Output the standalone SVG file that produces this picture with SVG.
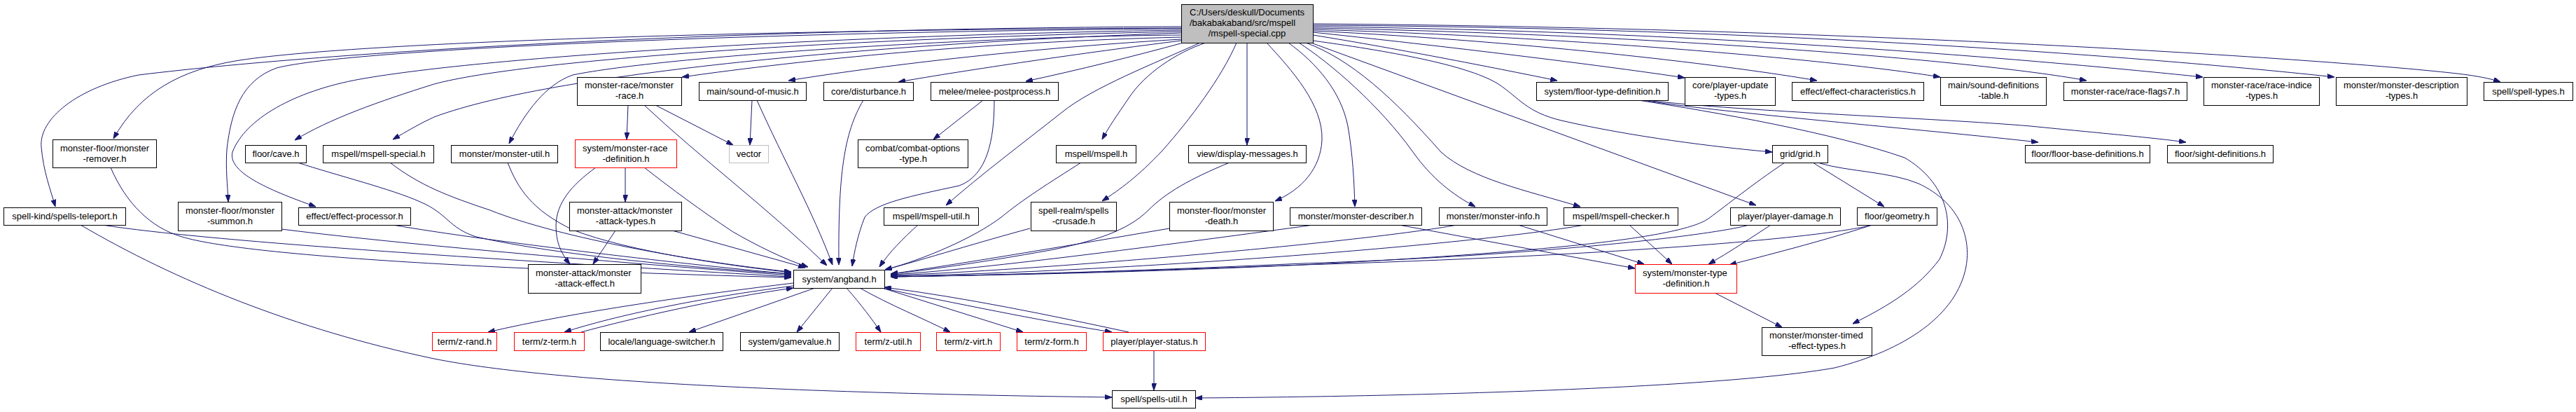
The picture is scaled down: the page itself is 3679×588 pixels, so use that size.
<svg xmlns="http://www.w3.org/2000/svg" width="3679" height="588" viewBox="0 0 3679 588">
<style>
rect{fill:#fff;stroke:#000;stroke-width:1}
.r rect{stroke:#ff0000}
.g rect{stroke:#bfbfbf}
.m rect{fill:#bfbfbf}
text{font-family:"Liberation Sans",Arial,sans-serif;font-size:13px;fill:#000}
.c{text-anchor:middle}
#edges path{fill:none;stroke:#191970;stroke-width:1;marker-end:url(#ah)}
</style>
<defs>
<marker id="ah" markerWidth="10" markerHeight="7" refX="10" refY="3.5" orient="auto" markerUnits="userSpaceOnUse">
<path d="M0,0 L10,3.5 L0,7 z" fill="#191970" stroke="#191970" stroke-width="1"/>
</marker>
</defs>
<rect x="0" y="0" width="3679" height="588" style="fill:#fff;stroke:none"/>
<g id="edges">
<path d="M1687,38 C1100,40 500,70 198,107 C110,125 55,170 59,210 C62,245 72,270 79,295"/>
<path d="M1687,40 C1100,42 500,60 336,87 C260,100 200,130 162,198"/>
<path d="M1687,41 C1100,45 500,70 395,97 C345,115 330,160 324,213 C322,240 325,265 326,288"/>
<path d="M1687,43 C1200,50 700,80 514,113 C420,130 350,170 332,217 C325,245 380,270 451,295"/>
<path d="M1687,45 C1200,55 750,85 620,120 C540,145 470,170 421,200"/>
<path d="M1687,47 C1300,60 800,100 620,167 C600,176 580,188 561,199"/>
<path d="M1687,50 C1400,52 950,80 818,107 C780,120 750,160 727,205"/>
<path d="M1687,53 C1400,60 1150,85 974,110"/>
<path d="M1687,56 C1450,70 1250,95 1126,115"/>
<path d="M1687,58 C1550,75 1380,100 1283,117"/>
<path d="M1690,61 C1620,80 1540,100 1465,116"/>
<path d="M1714,61 C1650,90 1560,125 1517,160 C1460,205 1400,250 1351,293"/>
<path d="M1722,61 C1680,75 1635,105 1612,140 C1595,165 1583,182 1574,199"/>
<path d="M1766,61 C1745,110 1700,170 1660,215 C1625,252 1600,270 1574,287"/>
<path d="M1781,61 L1781,207"/>
<path d="M1809,61 C1845,100 1890,150 1888,200 C1886,240 1860,270 1821,287"/>
<path d="M1840,61 C1880,90 1915,130 1925,180 C1932,220 1934,260 1935,295"/>
<path d="M1855,61 C1900,90 1970,150 2018,217 C2045,255 2075,278 2107,295"/>
<path d="M1865,61 C1930,85 1990,140 2058,217 C2100,255 2180,272 2257,295"/>
<path d="M1875,62 L2508,293"/>
<path d="M1875,58 C2000,75 2100,95 2140,120 C2170,140 2180,160 2230,172 C2330,195 2450,210 2531,217"/>
<path d="M1875,50 C2000,70 2150,100 2224,115"/>
<path d="M1875,46 C2100,70 2300,95 2406,111"/>
<path d="M1875,44 C2200,60 2480,95 2595,115"/>
<path d="M1875,42 C2300,55 2650,90 2771,110"/>
<path d="M1875,40 C2400,50 2850,90 2980,115"/>
<path d="M1875,38 C2500,45 3000,95 3146,110"/>
<path d="M1875,36 C2600,40 3150,90 3334,110"/>
<path d="M1875,34 C2700,40 3400,90 3525,107 C3545,110 3560,113 3571,117"/>
<path d="M2346,143 C2450,160 2750,185 2911,203"/>
<path d="M2350,143 C2500,160 2757,168 2900,180 C3000,190 3080,197 3122,203"/>
<path d="M2340,143 C2450,160 2620,190 2720,225 C2780,260 2795,320 2770,370 C2740,410 2700,435 2646,462"/>
<path d="M2589,232 L2691,295"/>
<path d="M2549,232 C2500,265 2470,290 2440,312 C2400,340 2200,360 1860,378 C1600,390 1400,393 1272,395"/>
<path d="M2599,233 C2640,245 2700,245 2740,262 C2800,290 2815,340 2808,380 C2795,450 2720,500 2620,525 C2450,555 2000,566 1707,568"/>
<path d="M1876,321 C1700,345 1400,385 1272,392"/>
<path d="M2081,321 C1950,345 1500,385 1272,393"/>
<path d="M2263,321 C2100,350 1600,388 1272,394"/>
<path d="M2498,321 C2450,335 2200,365 1860,376 C1600,388 1400,393 1272,395"/>
<path d="M2674,321 C2600,340 2300,365 1860,378 C1600,388 1400,393 1272,395"/>
<path d="M1998,321 L2335,383"/>
<path d="M2168,321 L2348,377"/>
<path d="M2327,321 L2388,377"/>
<path d="M2529,321 C2500,340 2470,360 2440,377"/>
<path d="M2674,321 C2600,345 2520,365 2470,378"/>
<path d="M2449,418 L2545,467"/>
<path d="M1670,326 C1500,355 1350,380 1272,391"/>
<path d="M1756,232 C1700,255 1665,275 1640,300 C1610,330 1560,345 1500,357 C1400,375 1320,386 1272,391"/>
<path d="M1544,232 C1500,260 1460,285 1430,310 C1390,340 1320,370 1264,385"/>
<path d="M1471,326 C1400,345 1320,370 1264,385"/>
<path d="M1311,321 C1290,340 1270,360 1256,381"/>
<path d="M1420,143 C1420,200 1410,250 1370,265 C1300,280 1250,290 1235,310 C1225,335 1220,360 1217,380"/>
<path d="M1233,143 C1205,190 1197,250 1198,378"/>
<path d="M1081,143 C1120,230 1160,300 1189,378"/>
<path d="M920,150 C1000,225 1100,300 1181,379"/>
<path d="M920,239 C960,270 1000,300 1047,331 C1080,350 1120,370 1154,381"/>
<path d="M960,329 L1150,382"/>
<path d="M725,232 C740,270 760,300 818,328 C900,360 1050,380 1130,389"/>
<path d="M557,232 C600,265 640,280 700,300 C800,340 1000,375 1130,388"/>
<path d="M425,232 C480,250 560,270 600,288 C640,305 640,325 680,338 C800,365 1000,383 1130,391"/>
<path d="M561,321 C700,345 1000,380 1130,391"/>
<path d="M402,327 C600,352 950,380 1130,393"/>
<path d="M146,321 C300,345 700,370 1130,395"/>
<path d="M158,239 C180,290 215,325 260,338 C350,365 700,385 1130,396"/>
<path d="M851,239 C815,265 795,290 794,321 C794,345 800,360 814,377"/>
<path d="M893,239 L893,288"/>
<path d="M879,329 L847,377"/>
<path d="M897,150 L895,199"/>
<path d="M936,150 L1047,207"/>
<path d="M1074,143 L1071,207"/>
<path d="M1404,143 L1333,199"/>
<path d="M1133,404 C1000,420 820,445 697,474"/>
<path d="M1133,408 C1000,425 880,450 806,474"/>
<path d="M830,474 C900,455 1030,425 1133,411"/>
<path d="M1164,411 L984,474"/>
<path d="M1189,411 L1138,474"/>
<path d="M1209,411 C1230,435 1245,455 1258,474"/>
<path d="M1228,411 C1270,435 1320,455 1357,474"/>
<path d="M1260,411 L1461,474"/>
<path d="M1263,412 C1400,440 1500,460 1588,474"/>
<path d="M1612,474 C1500,450 1380,425 1263,410"/>
<path d="M1648,500 L1648,557"/>
<path d="M115,321 C250,400 420,470 620,512 C800,548 1200,562 1588,567"/>
</g>
<g id="n-main" class="m"><rect x="1687.5" y="6.5" width="188" height="55"/><text x="1699" y="22">C:/Users/deskull/Documents</text><text x="1699" y="37">/bakabakaband/src/mspell</text><text class="c" x="1781" y="52">/mspell-special.cpp</text></g>
<g id="n-monster-race"><rect x="824.5" y="110.5" width="149" height="40"/><text x="835" y="126">monster-race/monster</text><text class="c" x="899" y="141">-race.h</text></g>
<g id="n-sound-of-music"><rect x="998.5" y="117.5" width="153" height="26"/><text class="c" x="1075" y="134.5">main/sound-of-music.h</text></g>
<g id="n-disturbance"><rect x="1176.5" y="117.5" width="128" height="26"/><text class="c" x="1240.5" y="134.5">core/disturbance.h</text></g>
<g id="n-melee"><rect x="1329.5" y="117.5" width="182" height="26"/><text class="c" x="1420.5" y="134.5">melee/melee-postprocess.h</text></g>
<g id="n-floor-type"><rect x="2194.5" y="117.5" width="188" height="26"/><text class="c" x="2288.5" y="134.5">system/floor-type-definition.h</text></g>
<g id="n-player-update"><rect x="2406.5" y="110.5" width="129" height="40"/><text x="2417" y="126">core/player-update</text><text class="c" x="2471" y="141">-types.h</text></g>
<g id="n-effect-char"><rect x="2559.5" y="117.5" width="188" height="26"/><text class="c" x="2653.5" y="134.5">effect/effect-characteristics.h</text></g>
<g id="n-sound-def"><rect x="2771.5" y="110.5" width="151" height="40"/><text x="2782" y="126">main/sound-definitions</text><text class="c" x="2847" y="141">-table.h</text></g>
<g id="n-race-flags7"><rect x="2947.5" y="117.5" width="176" height="26"/><text class="c" x="3035.5" y="134.5">monster-race/race-flags7.h</text></g>
<g id="n-race-indice"><rect x="3147.5" y="110.5" width="165" height="40"/><text x="3158" y="126">monster-race/race-indice</text><text class="c" x="3230" y="141">-types.h</text></g>
<g id="n-desc-types"><rect x="3336.5" y="110.5" width="187" height="40"/><text x="3347" y="126">monster/monster-description</text><text class="c" x="3430" y="141">-types.h</text></g>
<g id="n-spell-types"><rect x="3547.5" y="117.5" width="127" height="26"/><text class="c" x="3611" y="134.5">spell/spell-types.h</text></g>
<g id="n-remover"><rect x="75.5" y="199.5" width="148" height="40"/><text x="86" y="215.5">monster-floor/monster</text><text class="c" x="149.5" y="230.5">-remover.h</text></g>
<g id="n-cave"><rect x="350.5" y="207.5" width="87" height="25"/><text class="c" x="394" y="224">floor/cave.h</text></g>
<g id="n-mspell-special"><rect x="461.5" y="207.5" width="158" height="25"/><text class="c" x="540.5" y="224">mspell/mspell-special.h</text></g>
<g id="n-monster-util"><rect x="644.5" y="207.5" width="152" height="25"/><text class="c" x="720.5" y="224">monster/monster-util.h</text></g>
<g id="n-race-def" class="r"><rect x="821.5" y="199.5" width="145" height="40"/><text x="832" y="215.5">system/monster-race</text><text class="c" x="894" y="230.5">-definition.h</text></g>
<g id="n-vector" class="g"><rect x="1041.5" y="207.5" width="56" height="25"/><text class="c" x="1069.5" y="224">vector</text></g>
<g id="n-combat"><rect x="1225.5" y="199.5" width="157" height="40"/><text x="1236" y="215.5">combat/combat-options</text><text class="c" x="1304" y="230.5">-type.h</text></g>
<g id="n-mspell"><rect x="1508.5" y="207.5" width="114" height="25"/><text class="c" x="1565.5" y="224">mspell/mspell.h</text></g>
<g id="n-display-messages"><rect x="1697.5" y="207.5" width="168" height="25"/><text class="c" x="1781.5" y="224">view/display-messages.h</text></g>
<g id="n-grid"><rect x="2531.5" y="207.5" width="79" height="25"/><text class="c" x="2571" y="224">grid/grid.h</text></g>
<g id="n-floor-base"><rect x="2892.5" y="207.5" width="178" height="25"/><text class="c" x="2981.5" y="224">floor/floor-base-definitions.h</text></g>
<g id="n-sight"><rect x="3095.5" y="207.5" width="151" height="25"/><text class="c" x="3171" y="224">floor/sight-definitions.h</text></g>
<g id="n-teleport"><rect x="5.5" y="296.5" width="174" height="25"/><text class="c" x="92.5" y="313">spell-kind/spells-teleport.h</text></g>
<g id="n-summon"><rect x="254.5" y="288.5" width="148" height="41"/><text x="265" y="304.5">monster-floor/monster</text><text class="c" x="328.5" y="319.5">-summon.h</text></g>
<g id="n-effect-proc"><rect x="426.5" y="296.5" width="160" height="25"/><text class="c" x="506.5" y="313">effect/effect-processor.h</text></g>
<g id="n-attack-types"><rect x="813.5" y="288.5" width="160" height="41"/><text x="824" y="304.5">monster-attack/monster</text><text class="c" x="893.5" y="319.5">-attack-types.h</text></g>
<g id="n-mspell-util"><rect x="1262.5" y="296.5" width="135" height="25"/><text class="c" x="1330" y="313">mspell/mspell-util.h</text></g>
<g id="n-crusade"><rect x="1472.5" y="288.5" width="122" height="41"/><text x="1483" y="304.5">spell-realm/spells</text><text class="c" x="1533.5" y="319.5">-crusade.h</text></g>
<g id="n-death"><rect x="1670.5" y="288.5" width="148" height="41"/><text x="1681" y="304.5">monster-floor/monster</text><text class="c" x="1744.5" y="319.5">-death.h</text></g>
<g id="n-describer"><rect x="1842.5" y="296.5" width="188" height="25"/><text class="c" x="1936.5" y="313">monster/monster-describer.h</text></g>
<g id="n-info"><rect x="2055.5" y="296.5" width="154" height="25"/><text class="c" x="2132.5" y="313">monster/monster-info.h</text></g>
<g id="n-checker"><rect x="2233.5" y="296.5" width="163" height="25"/><text class="c" x="2315" y="313">mspell/mspell-checker.h</text></g>
<g id="n-player-damage"><rect x="2471.5" y="296.5" width="157" height="25"/><text class="c" x="2550" y="313">player/player-damage.h</text></g>
<g id="n-geometry"><rect x="2652.5" y="296.5" width="114" height="25"/><text class="c" x="2709.5" y="313">floor/geometry.h</text></g>
<g id="n-attack-effect"><rect x="754.5" y="377.5" width="161" height="41"/><text x="765" y="393.5">monster-attack/monster</text><text class="c" x="835" y="408.5">-attack-effect.h</text></g>
<g id="n-angband"><rect x="1133.5" y="385.5" width="130" height="26"/><text class="c" x="1198.5" y="402.5">system/angband.h</text></g>
<g id="n-mtd" class="r"><rect x="2335.5" y="377.5" width="145" height="41"/><text x="2346" y="393.5">system/monster-type</text><text class="c" x="2408" y="408.5">-definition.h</text></g>
<g id="n-z-rand" class="r"><rect x="617.5" y="474.5" width="92" height="26"/><text class="c" x="663.5" y="491.5">term/z-rand.h</text></g>
<g id="n-z-term" class="r"><rect x="734.5" y="474.5" width="100" height="26"/><text class="c" x="784.5" y="491.5">term/z-term.h</text></g>
<g id="n-lang"><rect x="857.5" y="474.5" width="175" height="26"/><text class="c" x="945" y="491.5">locale/language-switcher.h</text></g>
<g id="n-gamevalue"><rect x="1057.5" y="474.5" width="141" height="26"/><text class="c" x="1128" y="491.5">system/gamevalue.h</text></g>
<g id="n-z-util" class="r"><rect x="1222.5" y="474.5" width="92" height="26"/><text class="c" x="1268.5" y="491.5">term/z-util.h</text></g>
<g id="n-z-virt" class="r"><rect x="1337.5" y="474.5" width="91" height="26"/><text class="c" x="1383" y="491.5">term/z-virt.h</text></g>
<g id="n-z-form" class="r"><rect x="1452.5" y="474.5" width="99" height="26"/><text class="c" x="1502" y="491.5">term/z-form.h</text></g>
<g id="n-player-status" class="r"><rect x="1575.5" y="474.5" width="146" height="26"/><text class="c" x="1648.5" y="491.5">player/player-status.h</text></g>
<g id="n-timed" ><rect x="2516.5" y="467.5" width="157" height="40"/><text x="2527" y="483">monster/monster-timed</text><text class="c" x="2595" y="498">-effect-types.h</text></g>
<g id="n-spells-util"><rect x="1588.5" y="557.5" width="119" height="25"/><text class="c" x="1648" y="574">spell/spells-util.h</text></g>
</svg>
